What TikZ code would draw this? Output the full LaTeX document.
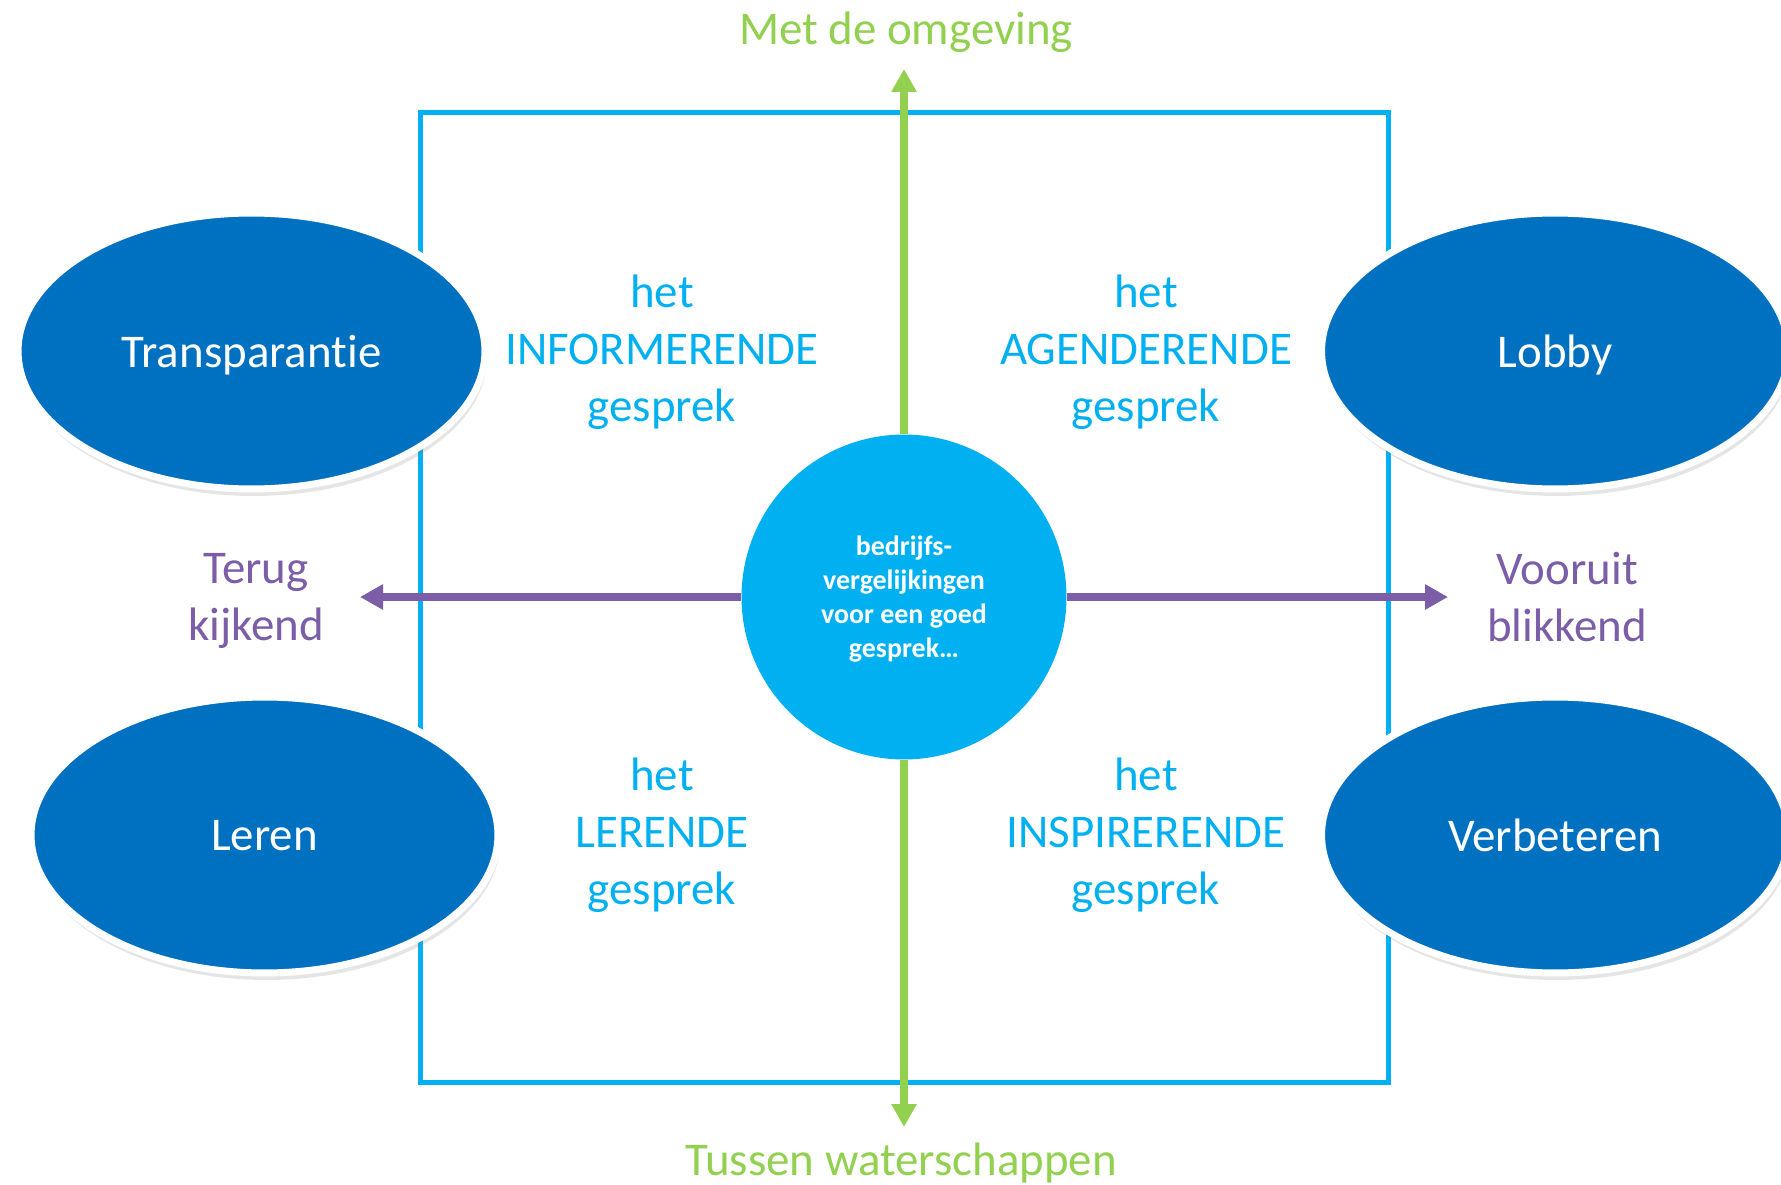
\documentclass[tikz,border=0pt]{standalone}
\usepackage{fontspec}
\setmainfont[Ligatures=NoCommon]{Carlito}
\usetikzlibrary{shapes.geometric,arrows.meta,shadows}
\definecolor{ellblue}{HTML}{0070C0}
\definecolor{frameblue}{HTML}{00B0F0}
\definecolor{axisgreen}{HTML}{92D050}
\definecolor{axispurple}{HTML}{7B5EA7}
\begin{document}
\begin{tikzpicture}[x=0.02cm, y=-0.02cm]
\tikzset{bol/.style={ellipse, fill=ellblue, draw=white, line width=0.14cm, minimum width=9.34cm, minimum height=5.52cm, text=white, text depth=0pt, font=\fontsize{26.7}{32.4}\selectfont, drop shadow={shadow xshift=0.04cm, shadow yshift=-0.14cm, opacity=0.2}}}
\tikzset{kwart/.style={align=center, text=frameblue, font=\fontsize{26.7}{32.4}\selectfont}}
\tikzset{richting/.style={align=center, text=axispurple, text depth=0pt, font=\fontsize{26.7}{32.4}\selectfont}}
\tikzset{omg/.style={text=axisgreen, font=\fontsize{26.7}{32.4}\selectfont, anchor=base}}
\tikzset{groen/.style={draw=axisgreen, line width=0.16cm, -{Triangle[length=0.46cm, width=0.48cm]}}}
\tikzset{paars/.style={draw=axispurple, line width=0.16cm, -{Triangle[length=0.46cm, width=0.48cm]}}}
\clip (0, 0) rectangle (1781, 1185);
\fill[white] (0, 0) rectangle (1781, 1185);
\draw[frameblue, line width=0.1cm] (420, 113) rectangle (1388, 1082);
\node[circle, fill=frameblue, minimum size=6.5cm, inner sep=0pt, align=center, text=white, text depth=0pt, font=\fontsize{15.9}{19.35}\selectfont\bfseries] (Mid) at (904, 597) {bedrijfs-\\vergelijkingen\\voor een goed\\gesprek\ldots};
\coordinate (Boven) at (904, 69);
\coordinate (Onder) at (904, 1127);
\coordinate (Links) at (360, 597);
\coordinate (Rechts) at (1448, 597);
\draw[groen] (Mid) -- (Boven);
\draw[groen] (Mid) -- (Onder);
\draw[paars] (Mid) -- (Links);
\draw[paars] (Mid) -- (Rechts);
\node[bol] (T) at (251.5, 351) {Transparantie};
\node[bol] (Lo) at (1555, 351) {Lobby};
\node[bol] (Le) at (264.5, 835) {Leren};
\node[bol] (V) at (1555, 835) {Verbeteren};
\node[kwart] (Q1) at (662, 352) {het\\INFORMERENDE\\gesprek};
\node[kwart] (Q2) at (1146, 352) {het\\AGENDERENDE\\gesprek};
\node[kwart] (Q3) at (662, 835) {het\\LERENDE\\gesprek};
\node[kwart] (Q4) at (1146, 835) {het\\INSPIRERENDE\\gesprek};
\node[richting] (Terug) at (256, 597) {Terug\\kijkend};
\node[richting] (Vooruit) at (1567, 597) {Vooruit\\blikkend};
\node[omg] (Omg) at (906, 45) {Met de omgeving};
\node[omg] (Tussen) at (901, 1175) {Tussen waterschappen};
\end{tikzpicture}
\end{document}
